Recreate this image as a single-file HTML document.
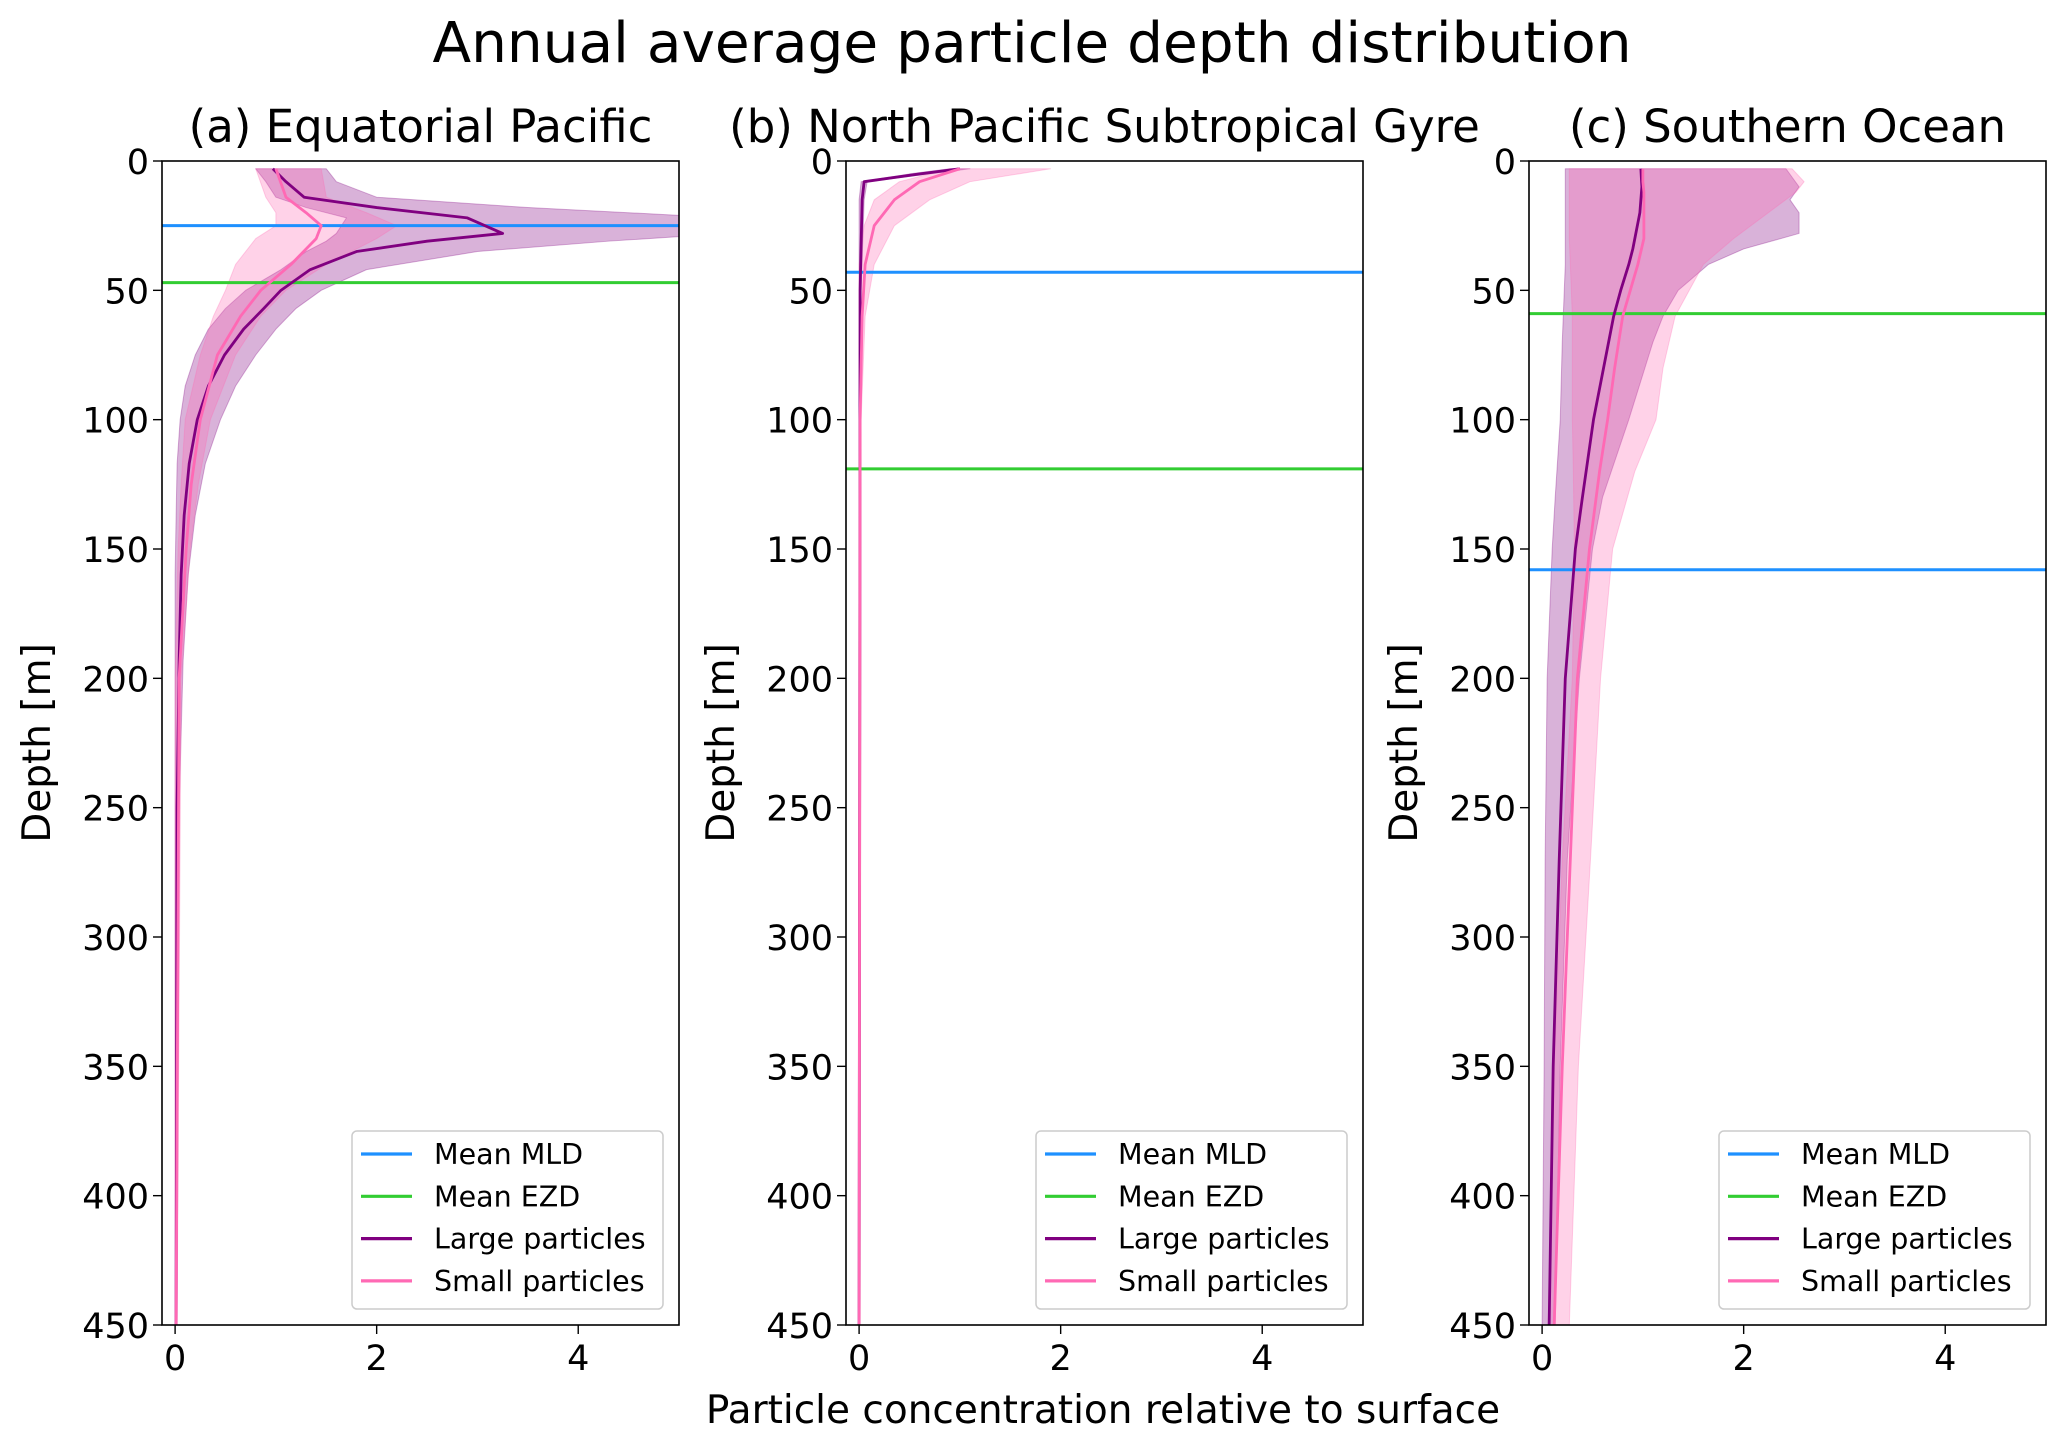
<!DOCTYPE html>
<html><head><meta charset="utf-8"><style>
html,body{margin:0;padding:0;background:#fff;}
svg{display:block;font-family:"DejaVu Sans","Liberation Sans",sans-serif;}
</style></head><body>
<svg id="fig" width="2067" height="1443" viewBox="0 0 2067 1443" xmlns="http://www.w3.org/2000/svg">
<text x="1032" y="62" font-size="56.5" text-anchor="middle">Annual average particle depth distribution</text>
<text x="1103" y="1423" font-size="39" text-anchor="middle">Particle concentration relative to surface</text>
</svg>
<script>
const panelTitles = ["(a) Equatorial Pacific","(b) North Pacific Subtropical Gyre","(c) Southern Ocean"];
const xTicks = [0,2,4];
const yTicks = [0,50,100,150,200,250,300,350,400,450];
const mldDepth = [25,43,158];
const ezdDepth = [47,119,59];
// panel a
const aLargeDepth = [3,8,14,18,22,28,31,35,42,50,57,65,75,87,100,117,137,160,193,250,450];
const aLargeMean  = [0.97,1.1,1.28,2.0,2.9,3.25,2.5,1.8,1.34,1.05,0.88,0.68,0.49,0.33,0.22,0.14,0.09,0.06,0.04,0.02,0.01];
const aLargeLo    = [0.8,0.9,1.0,1.3,1.7,1.6,1.5,1.3,1.05,0.7,0.5,0.33,0.2,0.1,0.05,0.02,0.01,0.0,0.0,0.0,0.0];
const aLargeHi    = [1.5,1.6,2.0,3.5,5.5,5.5,4.3,3.0,1.9,1.45,1.2,1.0,0.8,0.6,0.45,0.3,0.2,0.13,0.08,0.04,0.02];
const aSmallDepth = [3,14,20,25,30,40,50,60,75,100,125,150,200,450];
const aSmallMean  = [1.0,1.1,1.3,1.45,1.4,1.15,0.85,0.65,0.42,0.25,0.16,0.11,0.04,0.01];
const aSmallLo    = [0.8,0.9,1.0,1.0,0.8,0.6,0.5,0.38,0.25,0.1,0.06,0.03,0.0,0.0];
const aSmallHi    = [1.45,1.5,1.9,2.2,2.0,1.5,1.1,0.85,0.6,0.35,0.23,0.15,0.06,0.02];
// panel b
const bLargeDepth = [3,5,8,15,50,450];
const bLargeMean  = [1.0,0.6,0.05,0.03,0.01,0.0];
const bLargeLo    = [0.9,0.5,0.02,0.0,0.0,0.0];
const bLargeHi    = [1.1,0.7,0.08,0.05,0.02,0.01];
const bSmallDepth = [3,8,15,25,40,60,100,450];
const bSmallMean  = [1.0,0.6,0.35,0.15,0.06,0.03,0.01,0.0];
const bSmallLo    = [0.9,0.4,0.15,0.05,0.0,0.0,0.0,0.0];
const bSmallHi    = [1.9,1.1,0.7,0.35,0.15,0.06,0.02,0.01];
// panel c
const cLargeDepth = [3,10,15,20,28,34,40,50,60,70,100,130,150,200,270,350,450];
const cLargeMean  = [0.98,0.99,0.98,0.97,0.93,0.9,0.86,0.78,0.71,0.66,0.51,0.4,0.33,0.23,0.17,0.11,0.07];
const cLargeLo    = [0.23,0.23,0.23,0.23,0.23,0.23,0.23,0.22,0.21,0.2,0.18,0.13,0.1,0.05,0.03,0.02,0.0];
const cLargeHi    = [2.42,2.55,2.46,2.55,2.55,2.0,1.65,1.35,1.2,1.1,0.86,0.6,0.5,0.37,0.25,0.18,0.13];
const cSmallDepth = [3,8,12,30,40,60,80,100,120,150,200,270,350,450];
const cSmallMean  = [1.0,1.0,1.01,1.01,0.95,0.8,0.72,0.65,0.57,0.47,0.35,0.28,0.2,0.12];
const cSmallLo    = [0.27,0.27,0.27,0.27,0.28,0.3,0.3,0.3,0.31,0.32,0.3,0.2,0.12,0.06];
const cSmallHi    = [2.48,2.6,2.52,1.9,1.6,1.32,1.2,1.13,0.92,0.7,0.58,0.48,0.36,0.27];

const panels = [
 {d:[aLargeDepth,aLargeMean,aLargeLo,aLargeHi], s:[aSmallDepth,aSmallMean,aSmallLo,aSmallHi]},
 {d:[bLargeDepth,bLargeMean,bLargeLo,bLargeHi], s:[bSmallDepth,bSmallMean,bSmallLo,bSmallHi]},
 {d:[cLargeDepth,cLargeMean,cLargeLo,cLargeHi], s:[cSmallDepth,cSmallMean,cSmallLo,cSmallHi]}
];
const lefts=[162,846,1529], W=517, TOP=161, BOT=1325, XMIN=-0.13, XMAX=5.0, YMAX=450;
const NS="http://www.w3.org/2000/svg";
const svg=document.getElementById('fig');
function mk(tag,attrs,parent){const e=document.createElementNS(NS,tag);for(const k in attrs)e.setAttribute(k,attrs[k]);(parent||svg).appendChild(e);return e;}
const defs=mk('defs',{});
panels.forEach((p,i)=>{
  const L=lefts[i];
  const X=v=>L+(v-XMIN)/(XMAX-XMIN)*W;
  const Y=v=>TOP+v/YMAX*(BOT-TOP);
  const cp=mk('clipPath',{id:'clip'+i},defs);
  mk('rect',{x:L,y:TOP,width:W,height:BOT-TOP},cp);
  const g=mk('g',{'clip-path':'url(#clip'+i+')'});
  
  
  function band(arr,color,name){
    const [dep,,lo,hi]=arr;
    let pts=dep.map((d,k)=>X(hi[k])+','+Y(d));
    pts=pts.concat(dep.map((d,k)=>X(lo[k])+','+Y(d)).reverse());
    const e=mk('polygon',{points:pts.join(' '),fill:color,'fill-opacity':0.3,stroke:color,'stroke-opacity':0.3,'stroke-linejoin':'round'},g);
    
    
  }
  function line(arr,color,name){
    const [dep,mean]=arr;
    const e=mk('polyline',{points:dep.map((d,k)=>X(mean[k])+','+Y(d)).join(' '),fill:'none',stroke:color,'stroke-width':2.8,'stroke-linejoin':'round'},g);
    
    
  }
  band(p.d,'#800080','large-band');
  band(p.s,'#ff69b4','small-band');
  const m=mk('line',{x1:L,x2:L+W,y1:Y(mldDepth[i]),y2:Y(mldDepth[i]),stroke:'#1e90ff','stroke-width':3},g);
  
  
  const z=mk('line',{x1:L,x2:L+W,y1:Y(ezdDepth[i]),y2:Y(ezdDepth[i]),stroke:'#32cd32','stroke-width':3},g);
  
  
  line(p.d,'#800080','large-mean-line');
  line(p.s,'#ff69b4','small-mean-line');
  const fr=mk('rect',{x:L,y:TOP,width:W,height:BOT-TOP,fill:'none',stroke:'#000','stroke-width':1.6});
  
  
  xTicks.forEach(t=>{
    mk('line',{x1:X(t),x2:X(t),y1:BOT,y2:BOT+9,stroke:'#000','stroke-width':1.4});
    const tx=mk('text',{x:X(t),y:BOT+45,'font-size':35,'text-anchor':'middle'});
    tx.textContent=t;
    
    
  });
  yTicks.forEach(t=>{
    mk('line',{x1:L-9,x2:L,y1:Y(t),y2:Y(t),stroke:'#000','stroke-width':1.4});
    const tx=mk('text',{x:L-13,y:Y(t)+13,'font-size':35,'text-anchor':'end'});
    tx.textContent=t;
    
    
  });
  const yl=mk('text',{x:0,y:0,'font-size':39,'text-anchor':'middle',transform:`translate(${L-112},${(TOP+BOT)/2}) rotate(-90)`});
  yl.textContent='Depth [m]';
  
  
  const ti=mk('text',{x:L+W/2,y:142,'font-size':45,'text-anchor':'middle'});
  ti.textContent=panelTitles[i];
  
  
  // legend
  const lg=mk('g',{});
  
  
  const lx=L+190;
  mk('rect',{x:lx,y:1131,width:311,height:178,rx:5,fill:'#fff','fill-opacity':0.8,stroke:'#ccc','stroke-width':1.5},lg);
  const ent=[['Mean MLD','#1e90ff'],['Mean EZD','#32cd32'],['Large particles','#800080'],['Small particles','#ff69b4']];
  ent.forEach((e,k)=>{
    const yy=1154+k*42.3;
    mk('line',{x1:lx+9,x2:lx+60,y1:yy,y2:yy,stroke:e[1],'stroke-width':3.2},lg);
    const t=mk('text',{x:lx+82,y:yy+10,'font-size':28.5},lg);
    t.textContent=e[0];
    
    
  });
});
</script>
</body></html>
